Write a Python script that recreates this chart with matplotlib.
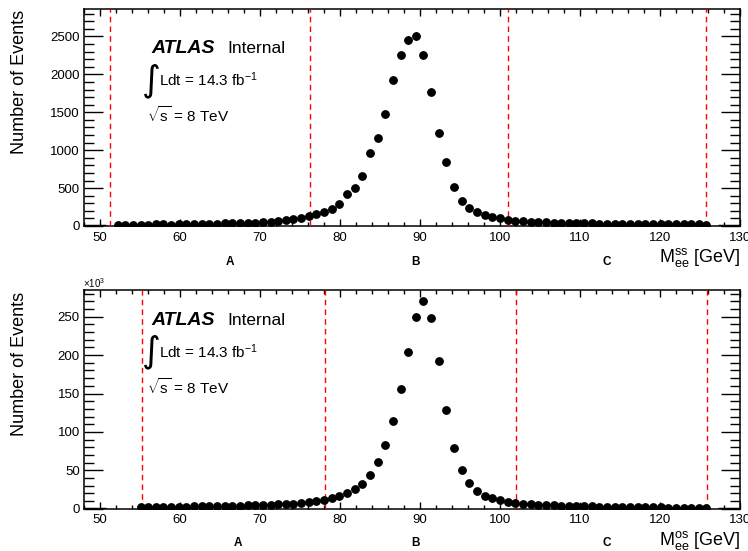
import numpy as np
import matplotlib
matplotlib.use('Agg')
import matplotlib.pyplot as plt
from matplotlib.ticker import MultipleLocator

# 1. Data
BIN_WIDTH = 0.956  # GeV, bin width of the mass histogram
FIRST_CENTER = 51.24  # centre of bin k = 0

# same-sign ee pairs, bins k = 1..78
ss_counts = [9, 9, 9, 14, 14, 22, 22, 18, 27, 22,
             31, 31, 27, 31, 36, 36, 36, 36, 36, 49,
             53, 67, 80, 93, 106, 133, 152, 183, 230, 292,
             425, 505, 660, 960, 1166, 1478, 1928, 2250, 2453, 2506,
             2258, 1765, 1222, 839, 508, 336, 243, 181, 143, 122,
             106, 78, 67, 62, 58, 58, 58, 42, 42, 45,
             45, 45, 40, 31, 31, 31, 31, 31, 31, 27,
             27, 27, 27, 27, 27, 27, 27, 14]
ss_first_bin = 1

# opposite-sign ee pairs (in thousands), bins k = 4..78
os_counts = [1.8, 1.8, 2.2, 2.2, 2.6, 2.6, 2.6, 3.1, 3.1, 3.1,
             3.5, 3.5, 3.9, 3.9, 4.4, 4.4, 4.8, 5.2, 5.7, 6.1,
             6.6, 7.4, 8.3, 9.6, 11.3, 13.3, 16.3, 20.0, 25.4, 32.8,
             43.4, 60.4, 83.3, 114.6, 156.3, 204.4, 250.0, 270.4, 248.7, 191.9,
             128.1, 79.4, 50.0, 33.0, 23.3, 17.0, 13.3, 10.9, 9.2, 7.9,
             6.6, 6.1, 5.2, 4.8, 4.4, 3.9, 3.9, 3.5, 3.1, 3.1,
             2.6, 2.6, 2.6, 2.2, 2.2, 2.2, 1.8, 1.8, 1.8, 1.3,
             1.3, 1.3, 1.3, 1.3, 0.5]
os_first_bin = 4

# empty bins at the edges of the range
empty_bins = [-3, -2, -1, 80, 81, 82]

# region boundaries (red dashed lines)
ss_cuts = [51.3, 76.2, 101.0, 125.8]
os_cuts = [55.2, 78.1, 102.0, 125.9]
region_labels = ['A', 'B', 'C']

# 2. Styling
plt.rcParams['font.family'] = ['Liberation Sans', 'DejaVu Sans']
plt.rcParams['mathtext.fontset'] = 'custom'
plt.rcParams['mathtext.rm'] = 'Liberation Sans'
plt.rcParams['mathtext.it'] = 'Liberation Sans:italic'
plt.rcParams['mathtext.bf'] = 'Liberation Sans:bold'

W, H = 748, 551


def px(x, y):
    # pixel position -> figure fraction
    return x / W, 1 - y / H


def bin_centers(first, n):
    k = np.arange(first, first + n)
    return FIRST_CENTER + BIN_WIDTH * k


def style_axes(ax, ymax, ymajor, yminor):
    ax.set_xlim(48, 130)
    ax.set_ylim(0, ymax)
    ax.xaxis.set_major_locator(MultipleLocator(10))
    ax.xaxis.set_minor_locator(MultipleLocator(2))
    ax.yaxis.set_major_locator(MultipleLocator(ymajor))
    ax.yaxis.set_minor_locator(MultipleLocator(yminor))
    ax.tick_params(which='both', direction='in', top=True, right=True,
                   labelsize=9.5, width=1, colors='black')
    ax.tick_params(axis='x', which='major', length=4.7, pad=4)
    ax.tick_params(axis='x', which='minor', length=2.6)
    ax.tick_params(axis='y', which='major', length=13.7, pad=3)
    ax.tick_params(axis='y', which='minor', length=7)
    for s in ax.spines.values():
        s.set_linewidth(1.1)


def draw_panel(ax, counts, first, cuts, scale):
    x = bin_centers(first, len(counts))
    y = np.array(counts, dtype=float)
    yerr = np.sqrt(y * scale) / scale
    ax.errorbar(x, y, xerr=BIN_WIDTH / 2, yerr=yerr, fmt='o', color='black',
                ms=5.3, elinewidth=1, capsize=0, zorder=4)
    xe = FIRST_CENTER + BIN_WIDTH * np.array(empty_bins)
    ax.errorbar(xe, np.zeros(len(xe)), xerr=BIN_WIDTH / 2, fmt='none',
                ecolor='black', elinewidth=2.5, capsize=0, zorder=4, clip_on=True)
    for c in cuts:
        ax.axvline(c, color='red', ls=(0, (4, 3)), lw=1, zorder=3)


fig = plt.figure(figsize=(W / 100, H / 100), dpi=100)

# 3. Top panel: same-sign
ax1 = fig.add_axes([84 / W, 1 - 226 / H, 656 / W, 217 / H])
draw_panel(ax1, ss_counts, ss_first_bin, ss_cuts, 1.0)
style_axes(ax1, 2862, 500, 100)

# 4. Bottom panel: opposite-sign
ax2 = fig.add_axes([84 / W, 1 - 508.7 / H, 656 / W, 218.7 / H])
draw_panel(ax2, os_counts, os_first_bin, os_cuts, 1000.0)
style_axes(ax2, 284.8, 50, 10)
fig.text(*px(83, 288), r'$\times$10$^{3}$', fontsize=7, va='baseline')

# 5. Texts
for top, axis_bottom, atlas_y, xlab in [(10, 226, 53.3, 'ss'), (292, 508.7, 325, 'os')]:
    fig.text(*px(19.5, top), 'Number of Events', rotation=90,
             ha='center', va='top', fontsize=13)
    fig.text(*px(740, axis_bottom + 36), r'M$_{\mathrm{ee}}^{\mathrm{%s}}$ [GeV]' % xlab,
             ha='right', va='baseline', fontsize=13)
    fig.text(*px(151, atlas_y), 'ATLAS', fontsize=14, weight='bold',
             style='italic', va='baseline')
    fig.text(*px(227.5, atlas_y), 'Internal', fontsize=12.5, va='baseline')
    fig.text(*px(142, atlas_y + 27), '\u222b', family='DejaVu Sans',
             fontsize=26, va='center')
    fig.text(*px(159, atlas_y + 33), r'Ldt = 14.3 fb$^{-1}$',
             fontsize=11, va='baseline')
    fig.text(*px(147, atlas_y + 68.5), r'$\sqrt{\mathrm{s}}$ = 8 TeV',
             fontsize=11, va='baseline')

abc_top = [230, 416, 607]
abc_bottom = [238, 416, 607]
for xs, yc in [(abc_top, 261.7), (abc_bottom, 542.5)]:
    for lab, xp in zip(region_labels, xs):
        fig.text(*px(xp, yc), lab, fontsize=8.5, weight='bold',
                 ha='center', va='center')

fig.savefig('out.png', dpi=100)
